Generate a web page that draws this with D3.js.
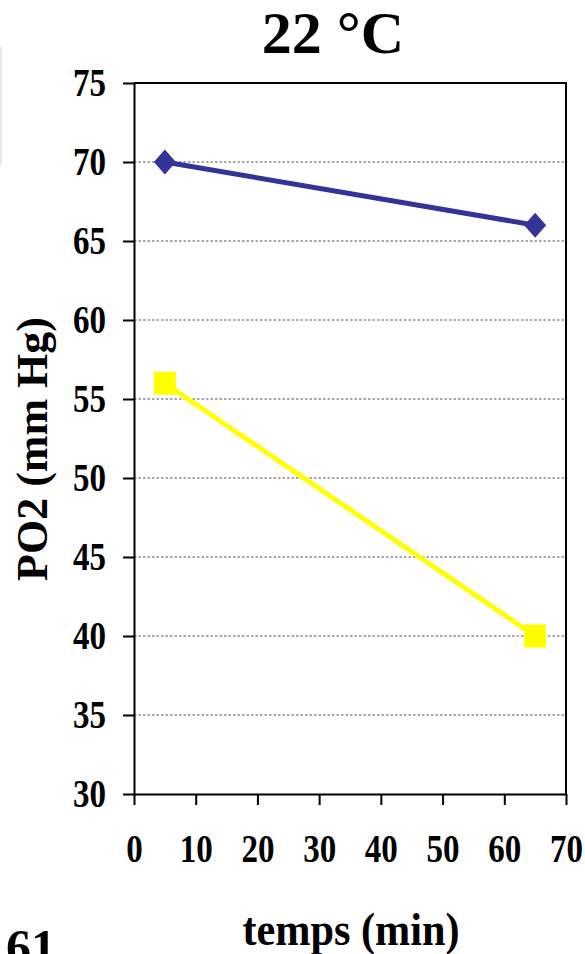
<!DOCTYPE html>
<html lang="fr">
<head>
    <meta charset="UTF-8">
    <title>PO2 22 °C</title>
    <script src="https://d3js.org/d3.v7.min.js"></script>
    <style>
        body { margin: 0; background: #fff; }
        text { font-family: "Liberation Serif", "Times New Roman", serif; font-weight: bold; fill: #000; }
    </style>
</head>
<body>
<div id="vis"></div>
<script>

    // data
    var times = [5, 65];
    var seriesBlue = [70, 66];
    var seriesYellow = [56, 40];
    var yTicks = [30, 35, 40, 45, 50, 55, 60, 65, 70, 75];
    var xTicks = [0, 10, 20, 30, 40, 50, 60, 70];

    var width = 585;
    var height = 954;

    var margin = { top: 83, left: 134, right: 19, bottom: 160 };

    var svg = d3.select("#vis")
        .append("svg")
        .attr("width", width)
        .attr("height", height);

    var x = d3.scaleLinear()
        .domain([0, 70])
        .range([margin.left, width - margin.right]);

    var y = d3.scaleLinear()
        .domain([30, 75])
        .range([height - margin.bottom, margin.top]);

    // faint frame remnant on the left edge
    svg.append("line")
        .attr("x1", 1).attr("x2", 1)
        .attr("y1", 47).attr("y2", 165)
        .attr("stroke", "#e2e2e2")
        .attr("stroke-width", 1.5);

    // dotted grid lines
    svg.selectAll(".grid")
        .data(yTicks.filter(function(d) { return d > 30 && d < 75; }))
        .enter()
        .append("line")
        .attr("class", "grid")
        .attr("x1", x(0))
        .attr("x2", x(70))
        .attr("y1", function(d) { return y(d); })
        .attr("y2", function(d) { return y(d); })
        .attr("stroke", "#555")
        .attr("stroke-width", 1.2)
        .attr("stroke-dasharray", "2.5,2");

    // top and right border of the plot area
    svg.append("path")
        .attr("d", "M" + x(0) + "," + y(75) + "H" + x(70) + "V" + y(30))
        .attr("fill", "none")
        .attr("stroke", "#000")
        .attr("stroke-width", 2);

    var yAxis = d3.axisLeft(y)
        .tickValues(yTicks)
        .tickSize(11)
        .tickSizeOuter(0)
        .tickPadding(17);

    var xAxis = d3.axisBottom(x)
        .tickValues(xTicks)
        .tickSize(11)
        .tickSizeOuter(0)
        .tickPadding(29);

    var gy = svg.append("g")
        .attr("transform", "translate(" + x(0) + ",0)")
        .call(yAxis);

    var gx = svg.append("g")
        .attr("transform", "translate(0," + y(30) + ")")
        .call(xAxis);

    [gx, gy].forEach(function(g) {
        g.attr("font-family", null).attr("font-size", null);
        g.select(".domain").attr("stroke", "#000").attr("stroke-width", 2);
        g.selectAll(".tick line").attr("stroke", "#000").attr("stroke-width", 2);
        g.selectAll(".tick text")
            .style("font-size", "40px")
            .attr("lengthAdjust", "spacingAndGlyphs")
            .attr("textLength", function(d) { return String(d).length * 16.5; });
    });

    // series lines
    var line = d3.line()
        .x(function(d, i) { return x(times[i]); })
        .y(function(d) { return y(d); });

    svg.append("path")
        .datum(seriesYellow)
        .attr("d", line)
        .attr("fill", "none")
        .attr("stroke", "#ffff00")
        .attr("stroke-width", 5);

    svg.append("path")
        .datum(seriesBlue)
        .attr("d", line)
        .attr("fill", "none")
        .attr("stroke", "#333399")
        .attr("stroke-width", 5);

    // markers
    svg.selectAll(".sq")
        .data(seriesYellow)
        .enter()
        .append("rect")
        .attr("class", "sq")
        .attr("x", function(d, i) { return x(times[i]) - 11; })
        .attr("y", function(d) { return y(d) - 11.5; })
        .attr("width", 22)
        .attr("height", 23)
        .attr("fill", "#ffff00");

    svg.selectAll(".dia")
        .data(seriesBlue)
        .enter()
        .append("path")
        .attr("class", "dia")
        .attr("transform", function(d, i) { return "translate(" + x(times[i]) + "," + y(d) + ")"; })
        .attr("d", "M0,-12.5L11,0L0,12.5L-11,0Z")
        .attr("fill", "#333399");

    // titles
    svg.append("text")
        .attr("x", 333)
        .attr("y", 53)
        .attr("text-anchor", "middle")
        .style("font-size", "60px")
        .text("22 °C");

    svg.append("text")
        .attr("x", 351)
        .attr("y", 945)
        .attr("text-anchor", "middle")
        .style("font-size", "46px")
        .attr("lengthAdjust", "spacingAndGlyphs")
        .attr("textLength", 217)
        .text("temps (min)");

    svg.append("text")
        .attr("transform", "translate(47,449) rotate(-90)")
        .attr("text-anchor", "middle")
        .style("font-size", "44px")
        .text("PO2 (mm Hg)");

    // cut-off page number at the bottom left
    svg.append("text")
        .attr("x", 6)
        .attr("y", 964)
        .style("font-size", "50px")
        .text("61");

</script>
</body>
</html>
